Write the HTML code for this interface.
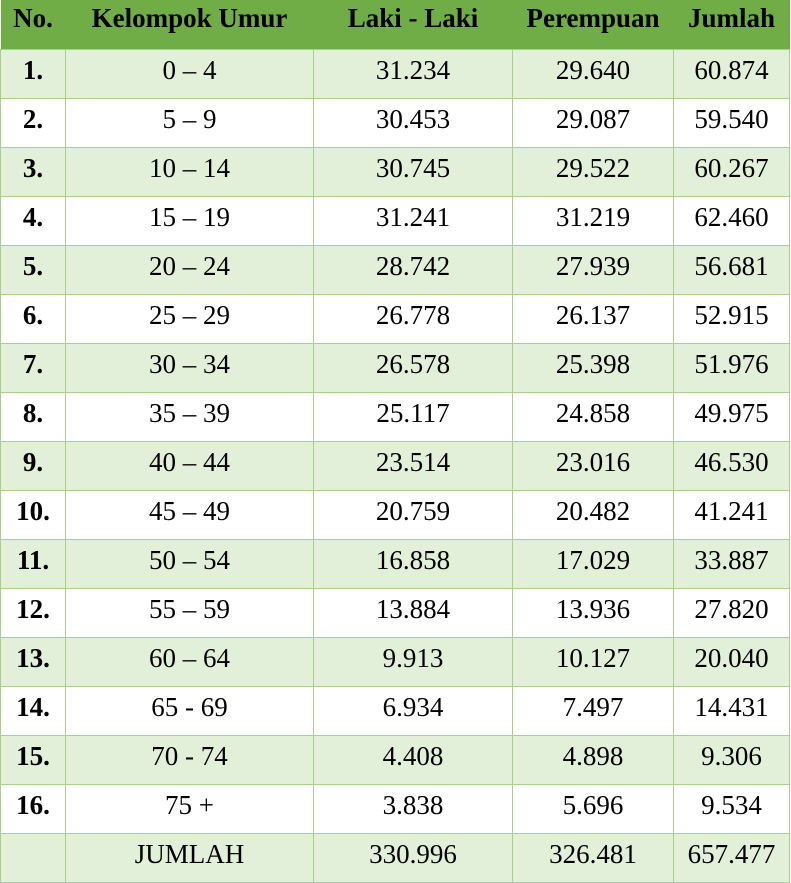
<!DOCTYPE html>
<html><head><meta charset="utf-8"><style>
body{margin:0;width:791px;height:882px;background:#fff;overflow:hidden}
table{border-collapse:collapse;table-layout:fixed;position:absolute;left:0;top:0;width:789px;font-family:"Liberation Serif",serif;font-size:27px;color:#000}
td,th{height:49px;padding:0;vertical-align:top;text-align:center;line-height:40px;box-sizing:border-box}
td{border:1px solid #A8D08D}
th{background:#70AD47;font-weight:bold;font-size:27px;line-height:36px;border:none}
tr.alt td{background:#E2EFD9}
td.no{font-weight:bold}
</style></head><body>
<table>
<colgroup><col style="width:65px"><col style="width:248px"><col style="width:199px"><col style="width:161px"><col style="width:116px"></colgroup>
<thead><tr><th>No.</th><th>Kelompok Umur</th><th>Laki - Laki</th><th>Perempuan</th><th>Jumlah</th></tr></thead>
<tbody id="tb"></tbody></table>
<script>
const ages=["0 – 4","5 – 9","10 – 14","15 – 19","20 – 24","25 – 29","30 – 34","35 – 39","40 – 44","45 – 49","50 – 54","55 – 59","60 – 64","65 - 69","70 - 74","75 +"];
const male=["31.234","30.453","30.745","31.241","28.742","26.778","26.578","25.117","23.514","20.759","16.858","13.884","9.913","6.934","4.408","3.838"];
const female=["29.640","29.087","29.522","31.219","27.939","26.137","25.398","24.858","23.016","20.482","17.029","13.936","10.127","7.497","4.898","5.696"];
const total=["60.874","59.540","60.267","62.460","56.681","52.915","51.976","49.975","46.530","41.241","33.887","27.820","20.040","14.431","9.306","9.534"];
const tb=document.getElementById('tb');
function row(cells,i){
  const tr=document.createElement('tr');
  
  
  if(i%2===0)tr.className='alt';
  cells.forEach((c,j)=>{const td=document.createElement('td');
    
    
    td.textContent=c;if(j===0)td.className='no';tr.appendChild(td);});
  tb.appendChild(tr);
}
ages.forEach((a,i)=>row([(i+1)+'.',a,male[i],female[i],total[i]],i));
row(['','JUMLAH','330.996','326.481','657.477'],16);
</script>
</body></html>
